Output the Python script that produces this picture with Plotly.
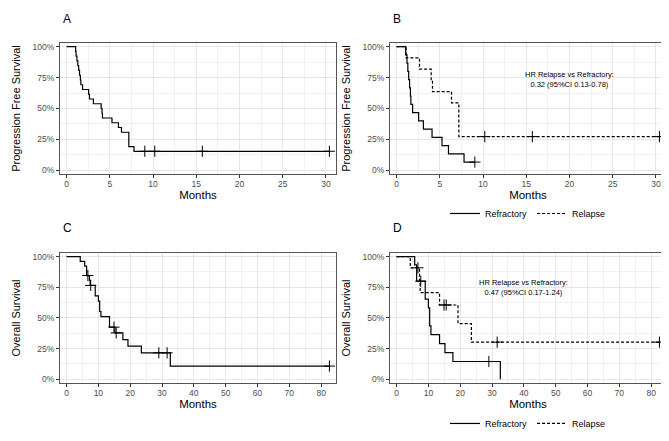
import plotly.graph_objects as go

# Progression free survival (months): event = progression, censored = "+"
PFS_REFRACTORY_EVENTS = [1.05, 1.2, 1.3, 1.4, 1.5, 1.6, 1.65, 1.85, 2.55, 3.1, 4.1, 5.25, 6.0, 7.8]
PFS_REFRACTORY_CENSORED = [9.05]
PFS_RELAPSE_EVENTS = [1.1, 2.65, 4.0, 4.15, 6.35, 7.2, 7.2, 7.2]
PFS_RELAPSE_CENSORED = [10.2, 15.7, 30.4]
PFS_ALL_EVENTS = [1.05, 1.1, 1.2, 1.3, 1.4, 1.5, 1.6, 1.65, 1.85, 2.55, 2.65, 3.1,
                  4.0, 4.1, 4.15, 5.25, 6.0, 6.35, 7.2, 7.2, 7.2, 7.8]
PFS_ALL_CENSORED = [9.05, 10.2, 15.7, 30.4]

# Overall survival (months)
OS_REFRACTORY_EVENTS = [5.7, 6.3, 6.3, 9.0, 9.0, 10.0, 10.4, 10.4, 10.8, 13.5, 15.2, 17.7, 32.6]
OS_REFRACTORY_CENSORED = [7.6, 29.0]
OS_RELAPSE_EVENTS = [4.3, 7.2, 7.4, 13.5, 19.3, 23.5]
OS_RELAPSE_CENSORED = [6.7, 14.9, 15.6, 31.6, 82.6]
OS_ALL_EVENTS = [4.3, 5.7, 6.3, 6.3, 7.2, 7.4, 9.0, 9.0, 10.0, 10.4, 10.4, 10.8,
                 13.5, 13.5, 15.2, 17.7, 19.3, 23.5, 32.6]
OS_ALL_CENSORED = [6.7, 7.6, 14.9, 15.6, 29.0, 31.6, 82.6]

PANEL_LABELS = ["A", "B", "C", "D"]
HR_TEXT_PFS = "HR Relapse vs Refractory:<br>0.32 (95%CI 0.13-0.78)"
HR_TEXT_OS = "HR Relapse vs Refractory:<br>0.47 (95%CI 0.17-1.24)"

FONT = "Liberation Sans, Arial, sans-serif"
GRID = "#e6e6e6"
MINOR_GRID = "#f1f1f1"
BORDER = "#555555"


def kaplan_meier(events, censored):
    """Step coordinates of the KM estimate plus censor mark positions."""
    times = sorted(set(events) | set(censored))
    at_risk = len(events) + len(censored)
    surv = 1.0
    xs, ys, cx, cy = [0.0], [1.0], [], []
    for t in times:
        d = events.count(t)
        c = censored.count(t)
        if d:
            surv *= 1 - d / at_risk
            xs.append(t)
            ys.append(surv)
        if c:
            cx.append(t)
            cy.append(surv)
        at_risk -= d + c
    if times[-1] > xs[-1]:
        xs.append(times[-1])
        ys.append(surv)
    return xs, ys, cx, cy


def add_curve(fig, events, censored, ax, name=None, dash="solid", legend=None):
    xs, ys, cx, cy = kaplan_meier(events, censored)
    fig.add_trace(go.Scatter(
        x=xs, y=ys, mode="lines", line_shape="hv",
        line=dict(color="black", width=1.2, dash=dash),
        xaxis=f"x{ax}", yaxis=f"y{ax}",
        name=name, showlegend=name is not None,
        legend=legend or "legend",
    ))
    fig.add_trace(go.Scatter(
        x=cx, y=cy, mode="markers",
        marker=dict(symbol="cross-thin", size=8, line=dict(color="black", width=1)),
        xaxis=f"x{ax}", yaxis=f"y{ax}", showlegend=False,
    ))


fig = go.Figure()

add_curve(fig, PFS_ALL_EVENTS, PFS_ALL_CENSORED, "")
add_curve(fig, PFS_REFRACTORY_EVENTS, PFS_REFRACTORY_CENSORED, "2", "Refractory")
add_curve(fig, PFS_RELAPSE_EVENTS, PFS_RELAPSE_CENSORED, "2", "Relapse", "3px,2px")
add_curve(fig, OS_ALL_EVENTS, OS_ALL_CENSORED, "3")
add_curve(fig, OS_REFRACTORY_EVENTS, OS_REFRACTORY_CENSORED, "4", "Refractory", legend="legend2")
add_curve(fig, OS_RELAPSE_EVENTS, OS_RELAPSE_CENSORED, "4", "Relapse", "3px,2px", legend="legend2")

x_domains = [[0, 0.4554], [0.5446, 1], [0, 0.4554], [0.5446, 1]]
y_domains = [[0.6147, 1], [0.6147, 1], [0, 0.3824], [0, 0.3824]]
x_ranges = [[-0.76, 31.16], [-0.76, 31.16], [-2.06, 84.66], [-2.06, 84.66]]
x_dticks = [5, 5, 10, 10]
y_titles = ["Progression Free Survival", "Progression Free Survival",
            "Overall Survival", "Overall Survival"]

axis_common = dict(
    showline=True, mirror=True, linecolor=BORDER, linewidth=1,
    ticks="outside", ticklen=3, tickcolor="#333333", tickwidth=1,
    tickfont=dict(size=8.5, color="#4d4d4d", family=FONT),
    showgrid=True, gridcolor=GRID, gridwidth=1, zeroline=False,
)

for i in range(4):
    s = "" if i == 0 else str(i + 1)
    fig.update_layout({
        f"xaxis{s}": dict(
            **axis_common, domain=x_domains[i], range=x_ranges[i],
            tick0=0, dtick=x_dticks[i], anchor=f"y{s}", ticklabelstandoff=-1,
            minor=dict(showgrid=True, gridcolor=MINOR_GRID, gridwidth=0.6,
                       tick0=0, dtick=x_dticks[i] / 2),
            title=dict(text="Months", font=dict(size=11.5, color="black", family=FONT),
                       standoff=0),
        ),
        f"yaxis{s}": dict(
            **axis_common, domain=y_domains[i], range=[-0.03, 1.03],
            tickvals=[0, 0.25, 0.5, 0.75, 1], tickformat=".0%", anchor=f"x{s}",
            minor=dict(showgrid=True, gridcolor=MINOR_GRID, gridwidth=0.6,
                       tick0=0, dtick=0.125),
            title=dict(text=y_titles[i], font=dict(size=11, color="black", family=FONT),
                       standoff=9),
        ),
    })

label_pos = [(0.002, 1.0708), (0.5462, 1.0708), (0.002, 0.456), (0.5462, 0.456)]
for lab, (lx, ly) in zip(PANEL_LABELS, label_pos):
    fig.add_annotation(text=lab, x=lx, y=ly, xref="paper", yref="paper",
                       xanchor="left", yanchor="middle", showarrow=False,
                       font=dict(size=12, color="black", family=FONT))

fig.add_annotation(text=HR_TEXT_PFS, x=20, y=0.735, xref="x2", yref="y2",
                   showarrow=False, align="center",
                   font=dict(size=7.5, color="black", family=FONT))
fig.add_annotation(text=HR_TEXT_OS, x=40, y=0.745, xref="x4", yref="y4",
                   showarrow=False, align="center",
                   font=dict(size=7.5, color="black", family=FONT))

legend_style = dict(orientation="h", xanchor="center", yanchor="middle",
                    font=dict(size=9, color="black", family=FONT),
                    bgcolor="rgba(0,0,0,0)", itemwidth=30)

fig.update_layout(
    template="none",
    width=669, height=441,
    paper_bgcolor="white", plot_bgcolor="white",
    font=dict(family=FONT, color="black"),
    margin=dict(l=52, r=11, t=35, b=53),
    legend=dict(**legend_style, x=0.7723, y=0.4986),
    legend2=dict(**legend_style, x=0.7723, y=-0.119),
)

fig.write_html("out.html")
